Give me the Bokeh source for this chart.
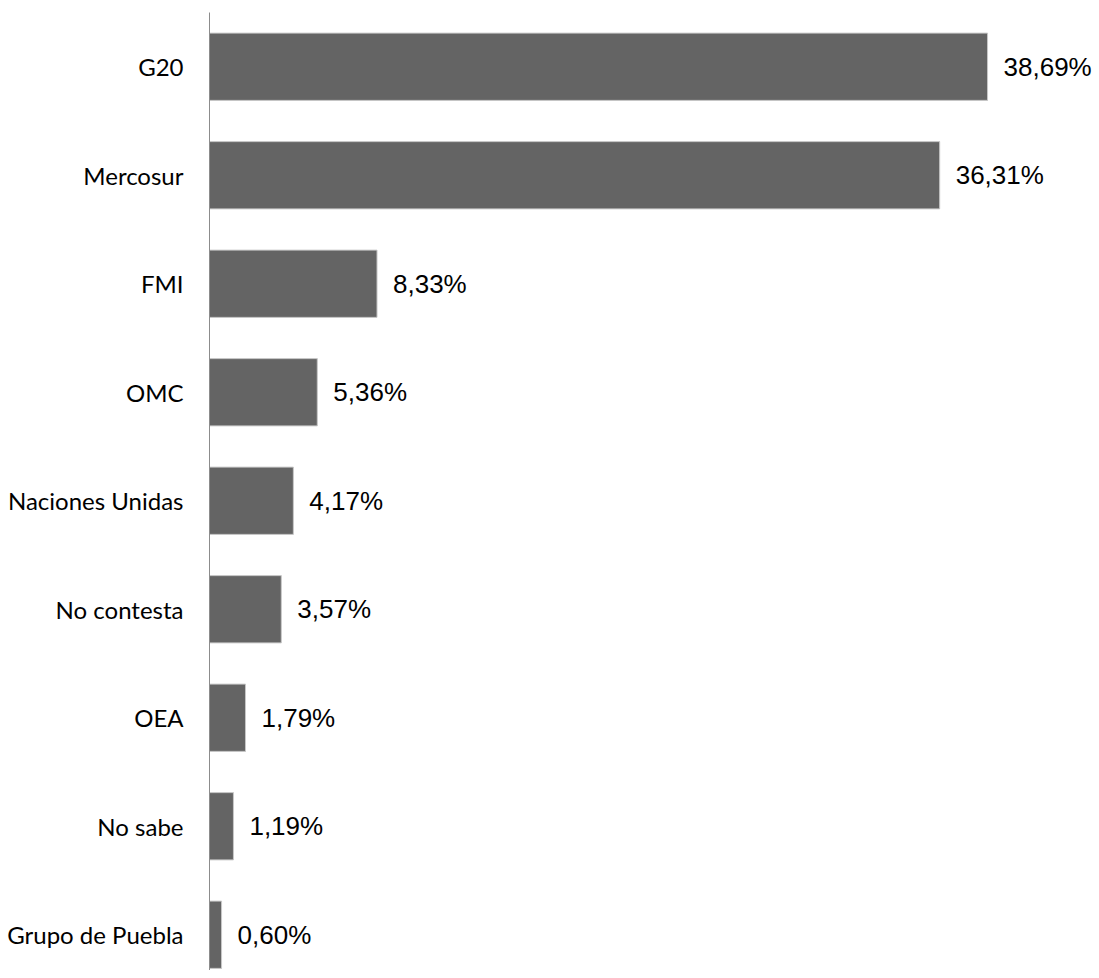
from bokeh.plotting import figure
from bokeh.models import Range1d, ColumnDataSource, FixedTicker
from bokeh.core.properties import value
from bokeh.embed import file_html
from bokeh.resources import INLINE

categories = ["G20", "Mercosur", "FMI", "OMC", "Naciones Unidas", "No contesta", "OEA", "No sabe", "Grupo de Puebla"]
values = [38.69, 36.31, 8.33, 5.36, 4.17, 3.57, 1.79, 1.19, 0.60]
value_labels = ["38,69%", "36,31%", "8,33%", "5,36%", "4,17%", "3,57%", "1,79%", "1,19%", "0,60%"]

ypos = list(range(len(categories)))
src = ColumnDataSource(dict(y=ypos, v=values, lab=value_labels, cat=categories))

W, H = 1099, 970
LEFT, TOP = 209, 12
p = figure(width=W, height=H, output_backend="svg", toolbar_location=None,
           x_range=Range1d(0, (W - LEFT) / 20.11),
           y_range=Range1d(-0.5 + (H - TOP) / 108.5, -0.5),
           min_border_left=LEFT, min_border_right=0, min_border_top=TOP, min_border_bottom=0)
p.xaxis.visible = False
p.xgrid.visible = False
p.ygrid.visible = False
p.outline_line_color = None
p.background_fill_color = "white"
p.border_fill_color = "white"

p.hbar(y="y", right="v", left=0, height=0.62, source=src,
       fill_color="#646464", line_color="#c8c8c8", line_width=1)
p.text(x="v", y="y", text="lab", source=src, x_offset=16,
       text_align="left", text_baseline="middle",
       text_font=value("Liberation Sans"), text_font_size="26px", text_color="#000000")

ax = p.yaxis[0]
ax.ticker = FixedTicker(ticks=ypos)
ax.major_label_overrides = {i: c for i, c in enumerate(categories)}
ax.major_tick_line_color = None
ax.minor_tick_line_color = None
ax.axis_line_color = "#8c8c8c"
ax.axis_line_width = 1
ax.major_label_standoff = 20
ax.major_label_text_font = "Lato"
ax.major_label_text_font_size = "24px"
ax.major_label_text_color = "#000000"

open("out.html", "w").write(file_html(p, INLINE))
